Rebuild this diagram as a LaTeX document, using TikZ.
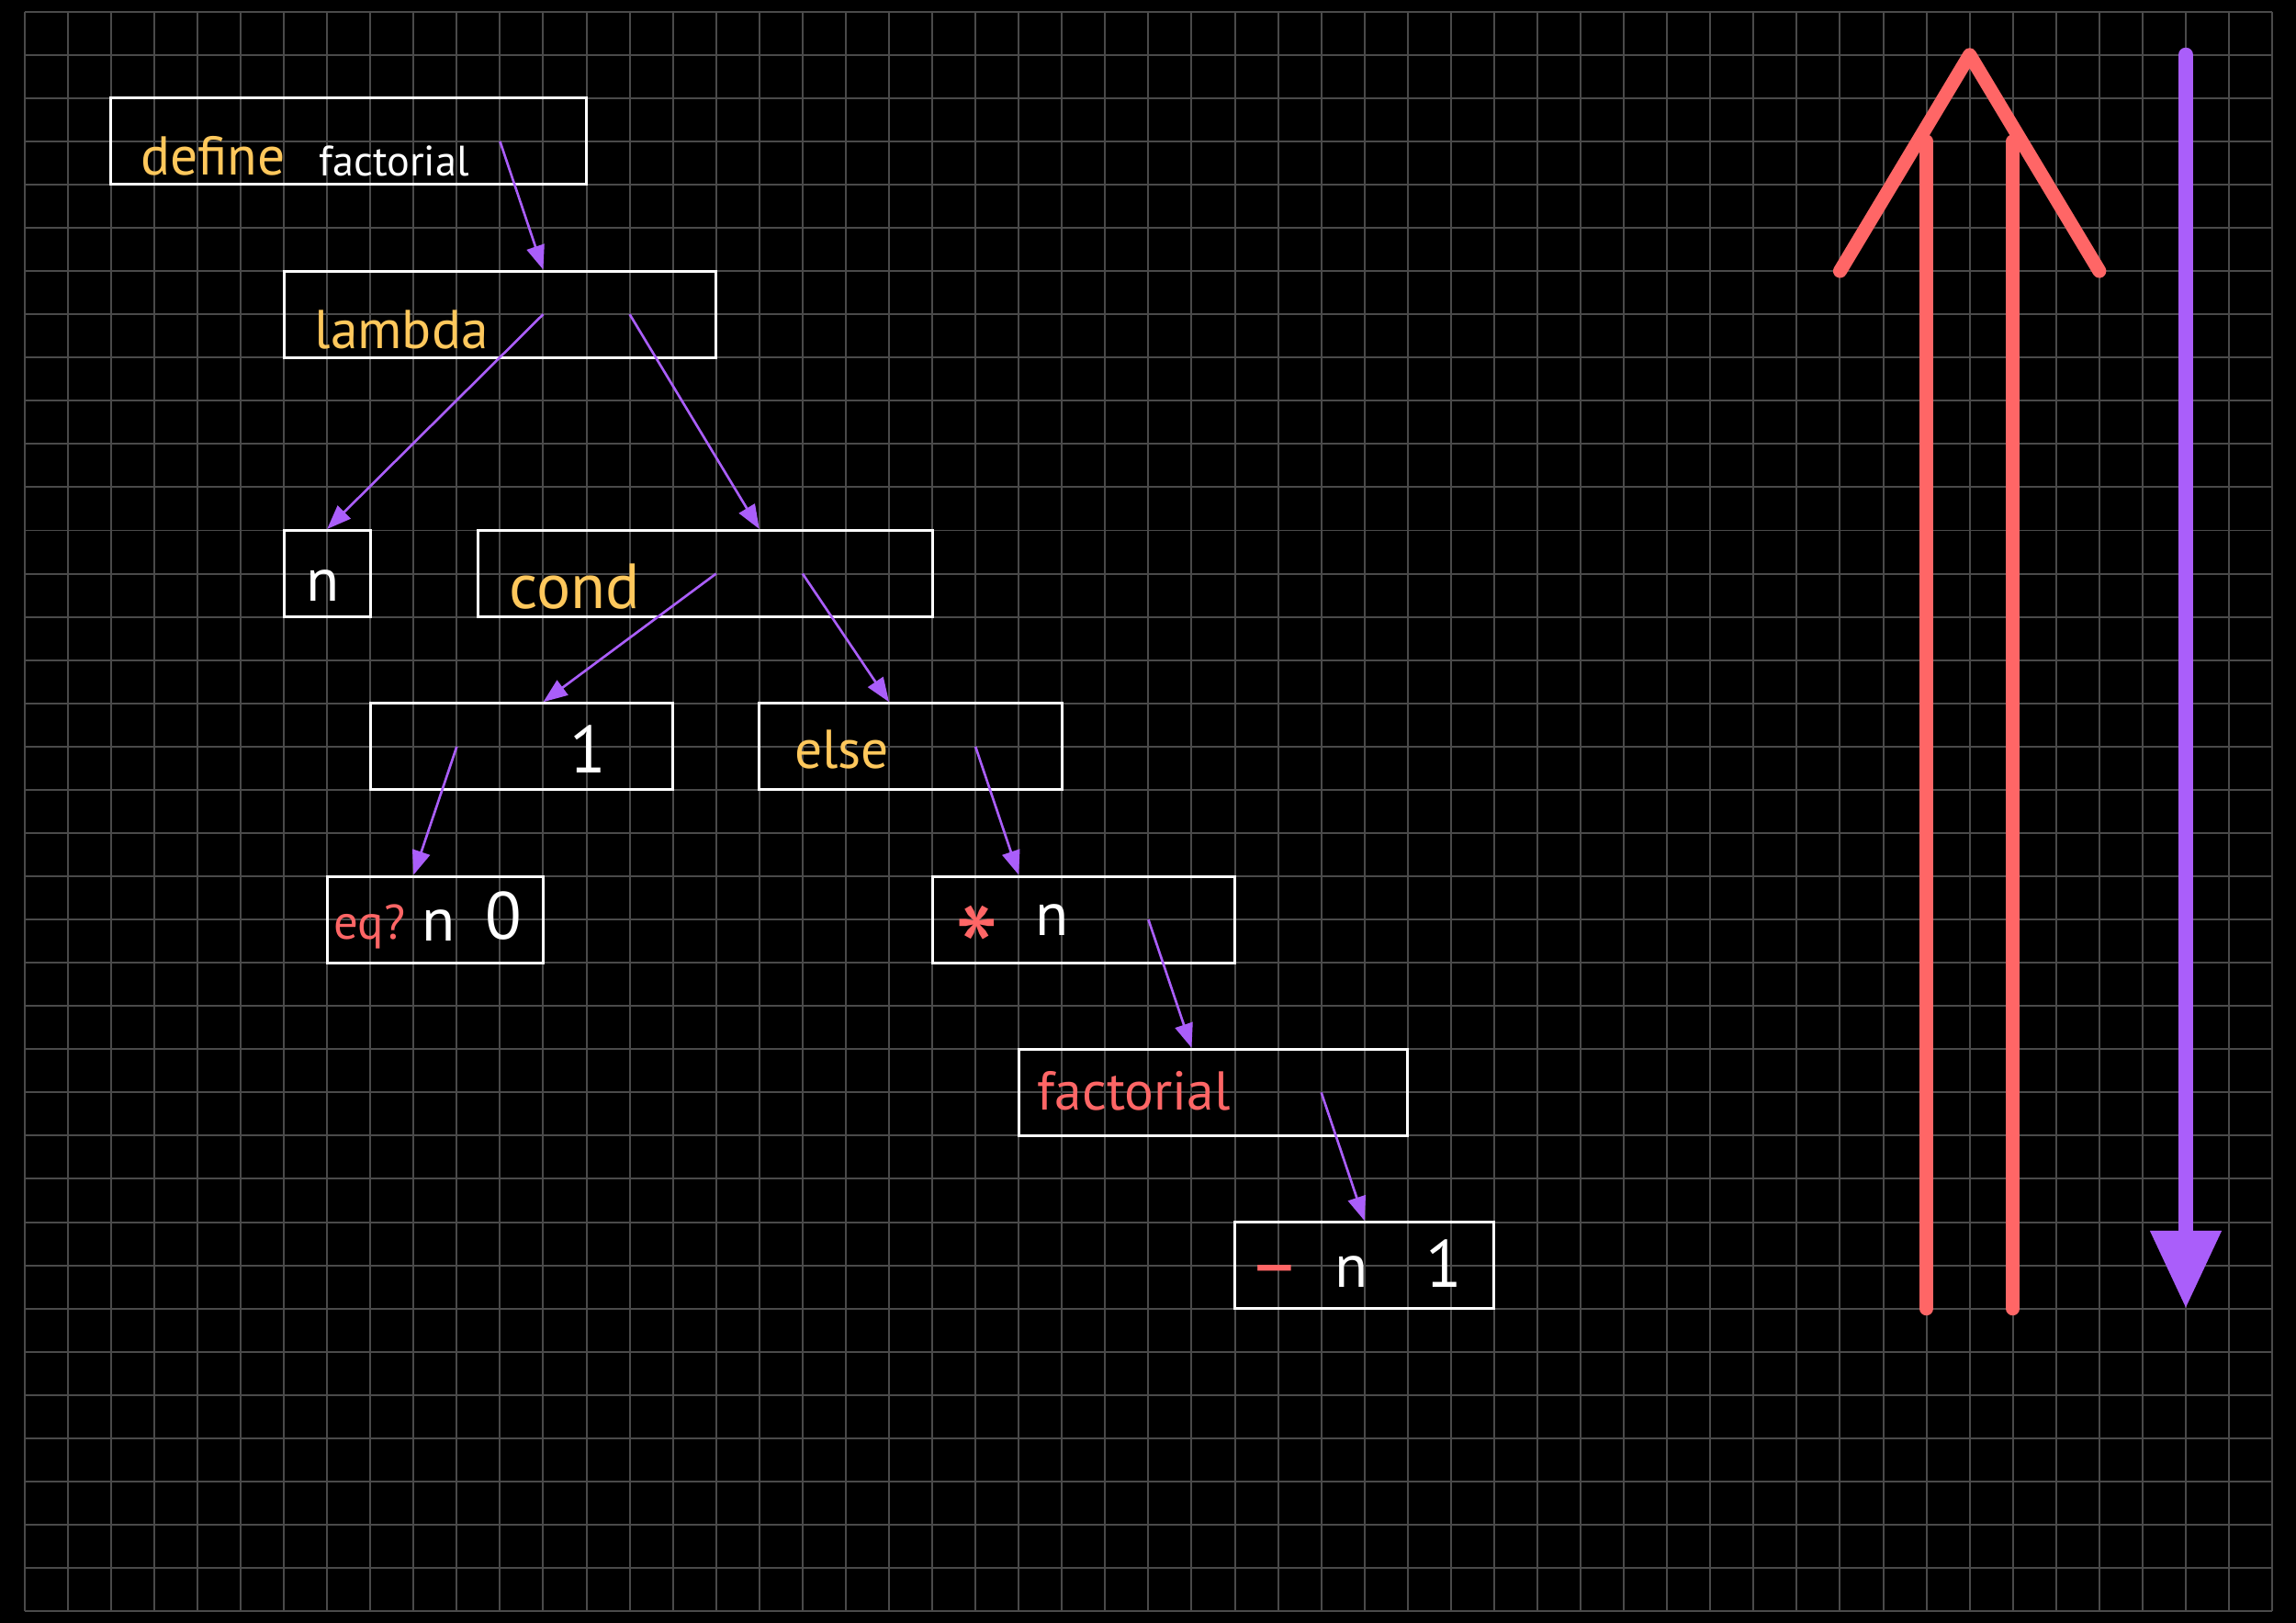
\documentclass[tikz,border=0pt]{standalone}
\usepackage{fontspec}
\setmainfont{PT Sans}
\usetikzlibrary{arrows.meta,calc,fit}

\definecolor{gridgray}{RGB}{74,74,74}
\definecolor{keyyellow}{RGB}{255,200,92}
\definecolor{opred}{RGB}{255,102,102}
\definecolor{flowpurple}{RGB}{170,94,250}

\tikzset{
  gridline/.style={draw=gridgray, line width=0.6pt},
  cell/.style={draw=white, line width=0.9pt, inner sep=0pt},
  flow/.style={draw=flowpurple, line width=0.8pt, -{Triangle[length=2.8mm,width=2.1mm]}},
  word/.style={anchor=base west, inner sep=0pt, font=\fontsize{#1}{#1}\selectfont},
  word/.default=20,
  bigred/.style={draw=opred, line width=1.6mm, line cap=round, line join=round},
  bigflow/.style={draw=flowpurple, line width=1.7mm, line cap=round, -{Triangle[length=9mm,width=7.8mm]}},
}

\begin{document}
\begin{tikzpicture}[x=5mm, y=-5mm]
   % Sizes
   \pgfmathsetmacro{\cols}{52}
   \pgfmathsetmacro{\rows}{37}
   \useasboundingbox (-0.567,-0.27) rectangle (52.55,37.27);
   \fill[black] (-0.567,-0.27) rectangle (52.55,37.27);

   % grid
   \foreach \i in {0,...,\cols}
     \draw[gridline] (\i,0) -- (\i,\rows);
   \foreach \j in {0,...,\rows}
     \draw[gridline] (0,\j) -- (\cols,\j);

   % boxes
   \node[cell, fit={(2,2) (13,4)}] (define) {};
   \node[cell, fit={(6,6) (16,8)}] (lambda) {};
   \node[cell, fit={(6,12) (8,14)}] (param) {};
   \node[cell, fit={(10.5,12) (21,14)}] (cond) {};
   \node[cell, fit={(8,16) (15,18)}] (clause) {};
   \node[cell, fit={(17,16) (24,18)}] (elseclause) {};
   \node[cell, fit={(7,20) (12,22)}] (test) {};
   \node[cell, fit={(21,20) (28,22)}] (times) {};
   \node[cell, fit={(23,24) (32,26)}] (recur) {};
   \node[cell, fit={(28,28) (34,30)}] (minus) {};

   % labels
   \node[word=18, text=keyyellow] (define-kw) at (2.68,3.77) {define};
   \node[word=14, text=white] (define-name) at (6.8,3.8) {factorial};
   \node[word=18, text=keyyellow] (lambda-kw) at (6.7,7.8) {lambda};
   \node[word=20, text=white] (param-n) at (6.51,13.64) {n};
   \node[word=21, text=keyyellow] (cond-kw) at (11.2,13.8) {cond};
   \node[word=22, text=white] (clause-one) at (12.6,17.6) {1};
   \node[word=18, text=keyyellow] (else-kw) at (17.8,17.5) {else};
   \node[word=16, text=opred] (test-op) at (7.14,21.45) {eq?};
   \node[word=20, text=white] (test-n) at (9.19,21.5) {n};
   \node[word=22, text=white] (test-zero) at (10.65,21.46) {0};
   \node[word=42, text=opred] (times-op) at (21.5,22.8) {*};
   \node[word=20, text=white] (times-n) at (23.37,21.36) {n};
   \node[word=18, text=opred] (recur-name) at (23.42,25.4) {factorial};
   \node[word=26, text=opred] (minus-op) at (28.3,29.6) {\textendash};
   \node[word=20, text=white] (minus-n) at (30.3,29.5) {n};
   \node[word=22, text=white] (minus-one) at (32.4,29.5) {1};

   % links
   \draw[flow] ($(define.center)+(3.5,0)$) -- ($(lambda.north)+(1,0)$);
   \draw[flow] ($(lambda.center)+(1,0)$) -- (param.north);
   \draw[flow] ($(lambda.center)+(3,0)$) -- ($(cond.north)+(1.25,0)$);
   \draw[flow] ($(cond.center)+(0.25,0)$) -- ($(clause.north)+(0.5,0)$);
   \draw[flow] ($(cond.center)+(2.25,0)$) -- ($(elseclause.north)+(-0.5,0)$);
   \draw[flow] ($(clause.center)+(-1.5,0)$) -- ($(test.north)+(-0.5,0)$);
   \draw[flow] ($(elseclause.center)+(1.5,0)$) -- ($(times.north)+(-1.5,0)$);
   \draw[flow] ($(times.center)+(1.5,0)$) -- ($(recur.north)+(-0.5,0)$);
   \draw[flow] ($(recur.center)+(2.5,0)$) -- (minus.north);

   % big arrows
   \draw[bigred] (42,6) -- (45,1) -- (48,6);
   \draw[bigred] (44,3) -- (44,30);
   \draw[bigred] (46,3) -- (46,30);
   \draw[bigflow] (50,1) -- (50,30);
\end{tikzpicture}
\end{document}
